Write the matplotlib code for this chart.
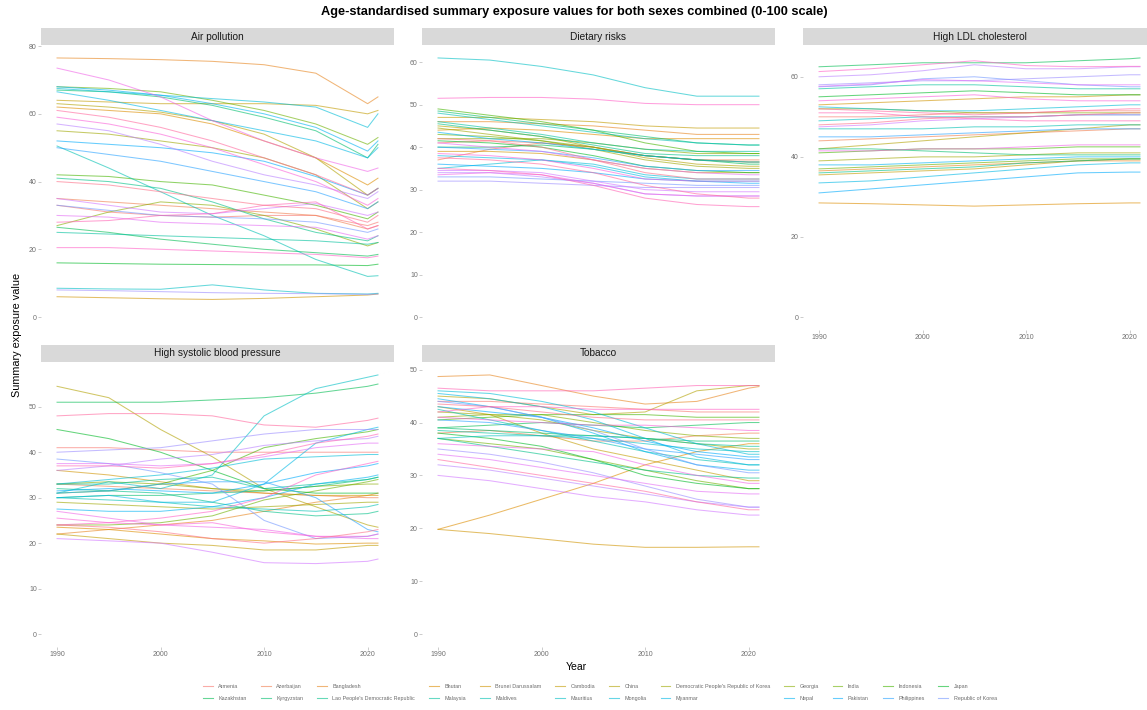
import numpy as np
import matplotlib
matplotlib.use("Agg")
import matplotlib.pyplot as plt
from matplotlib.lines import Line2D
from matplotlib.ticker import MultipleLocator

plt.rcParams['font.family'] = ['Liberation Sans', 'DejaVu Sans']

# data (approximate)
years = [1990, 1995, 2000, 2005, 2010, 2015, 2020, 2021]

countries = [
    "Armenia", "Azerbaijan", "Bangladesh", "Bhutan", "Brunei Darussalam",
    "Cambodia", "China", "Democratic People's Republic of Korea", "Georgia",
    "India", "Indonesia", "Japan", "Kazakhstan", "Kyrgyzstan",
    "Lao People's Democratic Republic", "Malaysia", "Maldives", "Mauritius",
    "Mongolia", "Myanmar", "Nepal", "Pakistan", "Philippines",
    "Republic of Korea", "Seychelles", "Singapore", "Sri Lanka",
    "Taiwan (Province of China)", "Tajikistan", "Thailand", "Timor-Leste",
    "Turkmenistan", "Uzbekistan", "Viet Nam",
]
# only the first two legend rows are visible in the reference
n_legend = 24

risks = ["Air pollution", "Dietary risks", "High LDL cholesterol",
         "High systolic blood pressure", "Tobacco"]

air_pollution = [
    [33, 31, 30, 29.5, 30, 30, 27, 28],
    [35, 34, 33, 32, 31, 30, 26, 27],
    [76.5, 76.3, 76, 75.5, 74.5, 72, 63, 65],
    [62, 61, 60, 57, 52, 47, 39, 41],
    [6, 5.7, 5.4, 5.2, 5.5, 6, 6.5, 6.8],
    [64, 63.5, 63, 63, 63, 62.5, 60, 61],
    [63, 62, 60.5, 58, 54, 47, 36, 38],
    [55, 54, 52, 50, 47, 42, 32, 34],
    [27, 31, 34, 33, 30, 26, 21, 22],
    [68, 67.5, 66.5, 64, 61, 57, 51, 53],
    [42, 41.5, 40, 39, 36, 33, 29, 31],
    [16, 15.8, 15.6, 15.5, 15.4, 15.4, 15.2, 15.6],
    [26.5, 25, 23, 21.5, 20, 19, 18, 18.5],
    [67, 66.5, 65, 62.5, 59, 55, 47, 51],
    [41, 40, 38, 34, 29, 25, 22.5, 24],
    [25, 24.5, 24, 23.5, 23, 22.5, 21.5, 22],
    [50.5, 44, 37, 30, 24, 17, 12, 12.2],
    [8.5, 8.3, 8.2, 9.5, 8, 7, 6.8, 7],
    [67.5, 66.5, 65.5, 64.5, 63.5, 62, 56, 60],
    [66.5, 64, 61, 58, 55, 52, 47, 50],
    [68, 67, 65.5, 63, 60, 56, 49, 52],
    [52, 51, 50, 48.5, 46, 41.5, 36, 38],
    [50, 48, 46, 43, 40, 37, 32, 34],
    [33, 31.5, 30, 29.5, 29, 28, 25, 26],
    [8, 7.8, 7.5, 7.2, 7, 6.9, 6.7, 6.8],
    [57, 55, 51, 46, 42, 39, 35, 37],
    [35, 33, 31, 30.5, 32, 33.5, 30, 31],
    [30, 29.5, 28, 27.5, 27, 26.5, 23, 24],
    [73.5, 70, 65, 58, 52, 47, 43, 44],
    [59, 57, 54, 50, 45, 40, 33, 35],
    [20.5, 20.5, 20, 19.5, 19, 18.5, 17.5, 18],
    [28, 28.5, 30, 30.5, 33, 34, 26, 27],
    [61, 59, 56, 52, 47, 42, 36, 38],
    [40, 39, 37, 35, 33, 32, 28, 30],
]

dietary_risks = [
    [41, 41.5, 41, 40, 38, 37, 36.5, 36.5],
    [37, 39.5, 41, 40, 38, 37, 37, 37],
    [46, 46, 45.5, 45, 44, 43, 43, 43],
    [44, 44.5, 44, 43, 42, 42, 42, 42],
    [39, 39, 38.5, 37, 35, 34, 34, 34],
    [47, 47, 46.5, 46, 45, 44.5, 44.5, 44.5],
    [45, 44, 42.5, 40, 37.5, 36, 35.5, 35.5],
    [44.5, 43, 41.5, 39.5, 37, 35.5, 35, 35],
    [42, 42, 42, 41, 39.5, 38.5, 38.5, 38.5],
    [43, 42.5, 41.5, 40, 38, 37, 36.5, 36.5],
    [49, 47.5, 46, 44, 41, 39, 38.5, 38.5],
    [41.5, 41, 40, 38, 35.5, 34.5, 34, 34],
    [40, 40, 40.5, 39.5, 38, 37, 36, 36],
    [48.5, 47, 45.5, 44, 42.5, 41, 40.5, 40.5],
    [45.5, 44, 42.5, 40.5, 38.5, 38, 38, 38],
    [46, 44.5, 43, 41, 39.5, 39, 39, 39],
    [48, 46.5, 45, 43.5, 42, 41, 40.5, 40.5],
    [61, 60.5, 59, 57, 54, 52, 52, 52],
    [35, 36, 37, 36, 33.5, 32.5, 32.5, 32.5],
    [38, 37.5, 37, 35.5, 33, 32, 32, 32],
    [43.5, 42, 41, 39.5, 38, 37, 36.5, 36.5],
    [36, 35.5, 35, 34, 32.5, 32, 31.5, 31.5],
    [40, 39.5, 39, 37.5, 35.5, 34.5, 34.5, 34.5],
    [33, 33, 32.5, 32, 31.5, 31, 31, 31],
    [32, 32, 31.5, 31, 30.5, 30.5, 30.5, 30.5],
    [34, 34, 33, 31.5, 29, 28.5, 28.5, 28.5],
    [34.5, 34.5, 34, 32, 30, 29.5, 29.5, 29.5],
    [41, 40, 39, 37, 35, 34, 33.5, 33.5],
    [33.5, 34, 33.5, 31.5, 29, 28.5, 28.5, 28.5],
    [38.5, 38, 37, 35, 32.5, 32, 32, 32],
    [51.5, 51.7, 51.7, 51.3, 50.3, 50, 50, 50],
    [35, 34.5, 33.5, 31, 28, 26.5, 26, 26],
    [37.5, 37, 36, 34, 31, 29, 28, 28],
    [42, 41.5, 40, 37, 34, 32.5, 32.5, 32.5],
]

high_ldl = [
    [50, 50, 50.5, 51, 51, 51.5, 51.5, 51.5],
    [44, 44.5, 45, 45.5, 46, 46.5, 47, 47],
    [36.5, 37, 37.5, 38, 38.5, 39, 39, 39],
    [28.5, 28.3, 28, 27.7, 28, 28.3, 28.5, 28.5],
    [53, 53.5, 54, 54.5, 55, 55, 55.5, 55.5],
    [35.5, 36, 36.5, 37, 38, 39, 39.5, 39.5],
    [42, 43, 44, 45, 46, 47, 48, 48],
    [39, 39.5, 40, 40, 40.5, 41, 41, 41],
    [52, 52, 51.5, 51, 51, 51, 51, 51],
    [37, 37.5, 38, 38.5, 39, 39.5, 39.5, 39.5],
    [41, 41.5, 42, 42, 42, 42.5, 42.5, 42.5],
    [55, 55.5, 56, 56.5, 56, 55.5, 55.5, 55.5],
    [62.5, 63, 63.5, 63.5, 63.5, 64, 64.5, 64.7],
    [42, 42, 41.5, 41, 40.5, 40.5, 40.5, 40.5],
    [36, 36.5, 37, 37.5, 38.5, 39, 39.5, 39.5],
    [57, 57.5, 58, 58, 57.5, 57, 57, 57],
    [47, 47, 47, 47.5, 47.5, 48, 48, 48],
    [49, 49.5, 50, 50, 50, 50.5, 50.5, 50.5],
    [52.5, 52, 51.5, 51.5, 52, 52.5, 53, 53],
    [33.5, 34, 35, 36, 37, 38, 38.5, 38.5],
    [38, 38, 38.5, 39, 39.5, 40, 40, 40],
    [31, 32, 33, 34, 35, 36, 36.2, 36.2],
    [45, 45, 45.5, 46, 46.5, 47, 47, 47],
    [57.5, 58, 59.5, 60, 59, 58, 57.5, 57.5],
    [58, 58.5, 59, 59, 59.5, 60, 60.5, 60.5],
    [60, 60.5, 61.5, 63, 62, 62, 62.5, 62.5],
    [47.5, 48, 49, 49.5, 50, 50.5, 50.5, 50.5],
    [57.6, 58.2, 59.3, 59, 58.5, 58, 58, 58],
    [41.5, 41.5, 42, 42, 42.5, 43, 43, 43],
    [54, 54.5, 55, 55.5, 54.5, 54, 54, 54],
    [61.3, 62, 63, 64, 62.8, 62.5, 62.6, 62.6],
    [51, 51, 50, 49.5, 49, 49, 49, 49],
    [52, 51.5, 51, 50.5, 51, 51.5, 52, 52],
    [48, 48.5, 49.5, 50, 50, 50.5, 51, 51],
]

high_sbp = [
    [41, 41, 40.5, 40, 40, 40, 40, 40],
    [33, 32.5, 32, 31.5, 31, 30.5, 30, 30],
    [22, 23, 24, 25, 27, 29, 30.5, 31],
    [23.5, 23, 22, 21, 20.5, 19.8, 20, 20],
    [36, 35, 33.5, 32, 31, 30.5, 30.5, 30.5],
    [22, 21, 20, 19.5, 18.5, 18.5, 19.5, 19.5],
    [54.5, 52, 45, 39, 32, 28, 24, 23.5],
    [29, 28.5, 28, 27.5, 28, 28.5, 29, 29],
    [33, 33.5, 33, 32, 31.5, 32.5, 33, 33],
    [24, 24, 24.5, 26, 29.5, 31.5, 33.5, 34],
    [31, 31.5, 33, 36, 41, 43, 44.5, 45],
    [45, 43, 40, 36, 32, 31, 31, 31],
    [51, 51, 51, 51.5, 52, 53, 54.5, 55],
    [30, 30.5, 30.5, 31, 31.5, 32.5, 34, 34.5],
    [32, 31.5, 31, 29, 27, 26, 26.5, 27],
    [33, 33, 34, 34.5, 32, 33, 34, 34.5],
    [30, 29.5, 29, 28, 27.5, 27, 28, 28.5],
    [31, 33.5, 32, 35, 48, 54, 56.5, 57],
    [33, 34, 35, 36.5, 38.5, 39, 39.5, 39.5],
    [30, 30.5, 29, 29, 33, 42, 45, 45.5],
    [27.5, 27, 27, 28, 30, 33, 34.5, 35],
    [31.5, 32, 31.5, 31, 33, 35.5, 37, 37.5],
    [31, 31.5, 33, 33.5, 33.5, 30, 23, 22.5],
    [38.5, 37.5, 35.5, 33, 25, 21, 21.5, 22],
    [40, 40.5, 41, 42.5, 44, 45, 45, 45],
    [36, 37, 38.5, 39.5, 41.5, 42.5, 43, 43.5],
    [21, 20.5, 20, 18, 15.7, 15.5, 16, 16.5],
    [37.5, 37.5, 37, 37.5, 39, 41, 42, 42],
    [27, 25.5, 24, 23.5, 23, 21.5, 21, 21],
    [25.5, 24.5, 24, 24.5, 22.5, 21.5, 21.5, 22],
    [24, 24.5, 25.5, 27, 30, 35, 37.5, 38],
    [37, 37, 36.5, 37.5, 39.5, 42, 43.5, 44],
    [48, 48.5, 48.5, 48, 46, 45.5, 47, 47.5],
    [24, 23.5, 22.5, 21, 20, 21, 22.5, 23],
]

tobacco = [
    [44, 44, 43.5, 43, 42.5, 42, 42, 42],
    [38, 38.5, 37.5, 36.5, 36.5, 37.5, 38, 38],
    [48.7, 49, 47, 45, 43.5, 44, 46.5, 46.8],
    [19.8, 22.5, 25.5, 28.5, 32, 34.5, 36, 36],
    [19.8, 19, 18, 17, 16.4, 16.4, 16.5, 16.5],
    [43, 41.5, 38, 35, 33, 31, 29, 29],
    [45, 44.5, 43, 41.5, 42, 46, 47, 47],
    [42, 41.5, 40.5, 38.5, 37, 36, 35, 35],
    [41, 41.5, 41.5, 40, 38.5, 37.5, 37, 37],
    [37, 36, 35, 33, 31, 29, 27.5, 27.5],
    [40.5, 41, 41.5, 41.5, 41.5, 41, 41, 41],
    [38, 37, 35.5, 33, 30, 28.5, 27.5, 27.5],
    [39, 39.5, 40, 39.5, 39, 39.5, 40, 40],
    [39, 38.5, 38, 37.5, 37, 36.5, 36.5, 36.5],
    [37, 35.5, 34, 32.5, 31, 30, 29.5, 29.5],
    [38.5, 38, 37.5, 37.5, 37, 36, 35.5, 35.5],
    [42.5, 40.5, 38.5, 36.5, 34.5, 33, 32, 32],
    [37, 37.5, 37.5, 37, 36, 35, 34.5, 34.5],
    [46, 45.5, 44, 42, 39, 36, 34, 34],
    [45.5, 44.5, 43, 40.5, 37, 33.5, 32, 32],
    [44.5, 43, 41, 38, 34.5, 32, 31, 31],
    [43, 42, 41, 39, 36.5, 34.5, 33.5, 33.5],
    [40.5, 40, 38.5, 37, 35, 34, 33, 33],
    [44, 43, 41, 38.5, 35, 32, 30.5, 30.5],
    [35, 34, 32.5, 30.5, 28, 25.5, 24, 24],
    [32, 31, 29.5, 28, 26.5, 25, 24, 24],
    [30, 29, 27.5, 26, 25, 23.5, 22.5, 22.5],
    [34, 33, 31.5, 30, 28.5, 27, 26.5, 26.5],
    [36, 35.5, 35, 34.5, 32, 30, 28.5, 28.5],
    [41, 40.5, 40, 39.5, 39.5, 39, 38.5, 38.5],
    [42, 43, 43, 42.5, 42.5, 42.5, 42.5, 42.5],
    [46.5, 46, 46, 46, 46.5, 47, 47, 47],
    [33, 31.5, 30, 28.5, 27, 25, 23.5, 23.5],
    [43.5, 43, 42, 41, 40.5, 40.5, 40.5, 40.5],
]

panel_data = [air_pollution, dietary_risks, high_ldl, high_sbp, tobacco]
y_steps = [20, 10, 20, 10, 10]


def hue_colours(n, c=100, l=65):
    # ggplot2 default hue palette: hcl(h, c, l) -> sRGB
    hues = np.linspace(15, 375, n + 1)[:-1]
    xn, yn, zn = 95.047, 100.0, 108.883
    un = 4 * xn / (xn + 15 * yn + 3 * zn)
    vn = 9 * yn / (xn + 15 * yn + 3 * zn)
    out = []
    for h in hues:
        u = c * np.cos(np.radians(h))
        v = c * np.sin(np.radians(h))
        Y = yn * ((l + 16) / 116) ** 3
        up = u / (13 * l) + un
        vp = v / (13 * l) + vn
        X = Y * 9 * up / (4 * vp)
        Z = Y * (12 - 3 * up - 20 * vp) / (4 * vp)
        xyz = np.array([X, Y, Z]) / 100
        m = np.array([[3.2404542, -1.5371385, -0.4985314],
                      [-0.9692660, 1.8760108, 0.0415560],
                      [0.0556434, -0.2040259, 1.0572252]])
        rgb = m @ xyz
        rgb = np.where(rgb <= 0.0031308, 12.92 * rgb,
                       1.055 * np.power(np.clip(rgb, 0, None), 1 / 2.4) - 0.055)
        out.append(tuple(np.clip(rgb, 0, 1)))
    return out


colours = hue_colours(len(countries))

W, H = 1147, 710
fig = plt.figure(figsize=(W / 100, H / 100), dpi=100)

# panel boxes in pixels: (left, top); third column runs past the right edge
pw, ph, sh = 353, 285, 17
boxes = [(41, 45), (422, 45), (803, 45), (41, 362), (422, 362)]
x_labels_on = [False, False, True, True, True]

x_lo = years[0] - 0.05 * (years[-1] - years[0])
x_hi = years[-1] + 0.05 * (years[-1] - years[0])

for k, risk in enumerate(risks):
    left, top = boxes[k]
    ax = fig.add_axes([left / W, 1 - (top + ph) / H, pw / W, ph / H])
    data = panel_data[k]
    for i, row in enumerate(data):
        ax.plot(years, row, color=colours[i], lw=0.75, alpha=0.6)
    ymax = max(max(r) for r in data)
    ax.set_ylim(-0.05 * ymax, 1.05 * ymax)
    ax.set_xlim(x_lo, x_hi)
    ax.yaxis.set_major_locator(MultipleLocator(y_steps[k]))
    ax.set_xticks([1990, 2000, 2010, 2020])
    for s in ax.spines.values():
        s.set_visible(False)
    ax.tick_params(axis='both', labelsize=5, colors='#c4c4c4', labelcolor='#707070',
                   length=2, width=0.6, pad=1)
    if not x_labels_on[k]:
        ax.tick_params(axis='x', length=0, labelbottom=False)

    # strip
    sax = fig.add_axes([left / W, 1 - top / H, pw / W, sh / H])
    sax.set_facecolor('#d9d9d9')
    sax.set_xticks([])
    sax.set_yticks([])
    for s in sax.spines.values():
        s.set_visible(False)
    sax.text(0.5, 0.5, risk, ha='center', va='center', fontsize=7.3, color='#1a1a1a',
             transform=sax.transAxes)

fig.text(574 / W, 1 - 12 / H,
         "Age-standardised summary exposure values for both sexes combined (0-100 scale)",
         ha='center', va='center', fontsize=9.2, fontweight='bold')
fig.text(576 / W, 1 - 667 / H, "Year", ha='center', va='center', fontsize=7.5)
fig.text(17 / W, 1 - 335 / H, "Summary exposure value", rotation=90,
         ha='center', va='center', fontsize=7.8)

# legend: ggplot fills row by row, matplotlib column by column
ncol = 12
order = []
for c in range(ncol):
    order += list(range(c, n_legend, ncol))
handles = [Line2D([], [], color=colours[i], lw=0.8, alpha=0.6) for i in order]
labels = [countries[i] for i in order]
fig.legend(handles, labels, ncol=ncol, loc='upper center',
           bbox_to_anchor=(600 / W, 1 - 684 / H), frameon=False, fontsize=3.9,
           handlelength=1.8, handletextpad=1.0, columnspacing=2.6, labelspacing=1.25,
           borderpad=0, borderaxespad=0, labelcolor='#6b6b6b')

fig.savefig("out.png", dpi=100)
